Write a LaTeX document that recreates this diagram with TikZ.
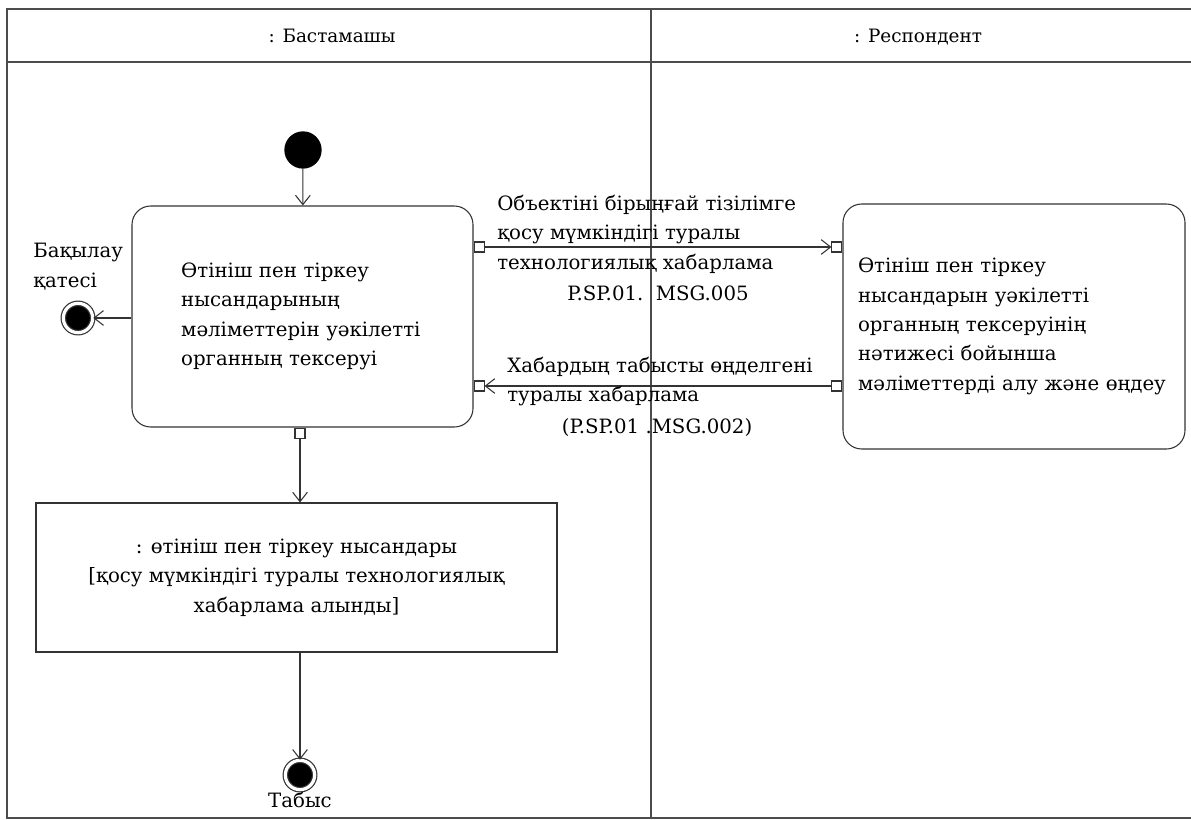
\documentclass[tikz,border=0pt]{standalone}
\usepackage{fontspec}
\setmainfont{DejaVu Serif}
\usetikzlibrary{arrows.meta,positioning}

\begin{document}
\begin{tikzpicture}[
x=0.75pt, y=-0.75pt,
font=\fontsize{14.8}{22}\selectfont,
flow/.style={-{Straight Barb[length=7pt,width=11pt]},thick,black!80},
frame/.style={line width=1.4pt,black!70},
lane/.style={anchor=base,font=\fontsize{13.8}{16}\selectfont},
activity/.style={draw,thick,black!80,text=black,rounded corners=14pt,align=left},
objbox/.style={draw,thick,black!80,text=black,align=center},
pinbox/.style={draw,thick,black!80,fill=white,minimum size=7.5pt,inner sep=0pt},
start/.style={circle,fill=black,minimum size=28pt,inner sep=0pt},
finish/.style={circle,draw=black!80,line width=0.9pt,double=white,double distance=2.4pt,
  fill=black,minimum size=22pt,inner sep=0pt},
msg/.style={align=left,inner sep=0pt}
]
    % Swimlanes
    \useasboundingbox (0,0) rectangle (1191,820);
    \draw[frame] (1191,9) -- (7,9) -- (7,818) -- (1191,818);
    \draw[frame] (7,62) -- (1191,62);
    \draw[frame] (651,9) -- (651,818);
    \node[lane] (lane1) at (332,43) {: Бастамашы};
    \node[lane] (lane2) at (918,43) {: Респондент};

    % Initiator lane
    \node[start] (init) at (303,150) {};
    \node[activity, minimum width=255.75pt, minimum height=165.75pt, text width=182pt]
        (check) at (302.5,316.5)
        {Өтініш пен тіркеу\\нысандарының\\мәліметтерін уәкілетті\\органның тексеруі};
    \node[finish] (errfin) at (78,318) {};
    \node[msg, anchor=south west] (errlbl) at (33,290) {Бақылау\\қатесі};
    \node[objbox, minimum width=390.75pt, minimum height=111.75pt]
        (result) at (296.5,577.5)
        {: өтініш пен тіркеу нысандары\\ {[}қосу мүмкіндігі туралы технологиялық\\хабарлама алынды{]}};
    \node[finish] (fin) at (300,775) {};
    \node[below=-2pt of fin] (finlbl) {Табыс};

    % Respondent lane
    \node[activity, minimum width=256.5pt, minimum height=183.75pt, text width=234pt]
        (proc) at (1014,326.5)
        {Өтініш пен тіркеу\\нысандарын уәкілетті\\органның тексеруінің\\нәтижесі бойынша\\мәліметтерді алу және өңдеу};

    % Pins
    \node[pinbox, anchor=west] (out1) at (check.east |- 0,247) {};
    \node[pinbox, anchor=west] (in1) at (check.east |- 0,386) {};
    \node[pinbox, anchor=north] (out3) at (check.south -| 300,0) {};
    \node[pinbox, anchor=east] (in2) at (proc.west |- out1) {};
    \node[pinbox, anchor=east] (out2) at (proc.west |- in1) {};

    % Flows
    \draw[flow] (init) -- (check);
    \draw[flow] (check.west |- errfin) -- (errfin);
    \draw[flow] (out1) -- (in2);
    \draw[flow] (out2) -- (in1);
    \draw[flow] (out3) -- (out3 |- result.north);
    \draw[flow] (result.south -| fin) -- (fin);

    % Messages
    \node[msg, anchor=north west] (m1) at (497,195)
        {Объектіні бірыңғай тізілімге\\қосу мүмкіндігі туралы\\технологиялық хабарлама};
    \node[msg] (m1id) at (658,293) {P.SP.01.\ \ MSG.005};
    \node[msg, anchor=north west] (m2) at (507,357)
        {Хабардың табысты өңделгені\\туралы хабарлама};
    \node[msg] (m2id) at (657,428) {(P.SP.01 .MSG.002)};
\end{tikzpicture}
\end{document}
